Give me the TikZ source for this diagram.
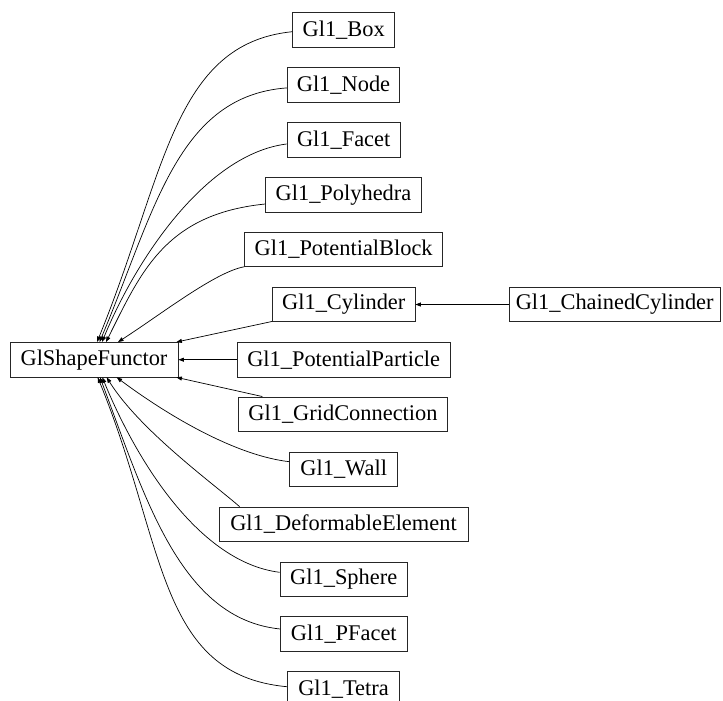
\documentclass[tikz,border=0pt]{standalone}
\usepackage{fontspec}
\setmainfont{Liberation Serif}
\usetikzlibrary{arrows.meta}
\begin{document}
\begin{tikzpicture}[x=1pt,y=-1pt,
  cls/.style={draw=black!85,line width=0.8pt,fill=white,inner sep=0pt,
    minimum height=34.5pt,font=\fontsize{22.4}{26}\selectfont},
  edge/.style={draw=black,line width=0.7pt,-{Triangle[length=5.5pt,width=4pt]}}]
\useasboundingbox (0,0) rectangle (723,701);
\clip (0,0) rectangle (723,701);
\fill[white] (0,0) rectangle (723,701);
% nodes
\node[cls,minimum width=168pt]   (gs)   at (94,359.7)    {GlShapeFunctor};
\node[cls,minimum width=102pt]   (box)  at (343.7,29.9)  {Gl1\_Box};
\node[cls,minimum width=112.4pt] (nod)  at (343.5,84.9)  {Gl1\_Node};
\node[cls,minimum width=113.3pt] (fac)  at (343.7,139.7) {Gl1\_Facet};
\node[cls,minimum width=155.6pt] (pol)  at (343.5,194.7) {Gl1\_Polyhedra};
\node[cls,minimum width=197.8pt] (pbl)  at (343.7,249.6) {Gl1\_PotentialBlock};
\node[cls,minimum width=142.5pt] (cyl)  at (343.75,304.5) {Gl1\_Cylinder};
\node[cls,minimum width=210.7pt] (ccy)  at (614.7,304.5) {Gl1\_ChainedCylinder};
\node[cls,minimum width=213.4pt] (ppa)  at (343.7,359.7) {Gl1\_PotentialParticle};
\node[cls,minimum width=208.4pt] (grd)  at (343,414.2)   {Gl1\_GridConnection};
\node[cls,minimum width=108pt]   (wal)  at (343.7,469.3) {Gl1\_Wall};
\node[cls,minimum width=249pt]   (def)  at (343.5,524.3) {Gl1\_DeformableElement};
\node[cls,minimum width=127.3pt] (sph)  at (343.7,579.3) {Gl1\_Sphere};
\node[cls,minimum width=126.3pt] (pfa)  at (343.8,634)   {Gl1\_PFacet};
\node[cls,minimum width=112.4pt] (tet)  at (343.5,689)   {Gl1\_Tetra};
% edges above
\draw[edge] ([shift={(0,1.8)}]box.west) .. controls +(-120,12) and +(68,-166) .. ([shift={(3,0)}]gs.north);
\draw[edge] ([shift={(0,3)}]nod.west) .. controls +(-110,8) and +(55,-130) .. ([shift={(5.5,0)}]gs.north);
\draw[edge] ([shift={(0,4.3)}]fac.west) .. controls +(-80,10) and +(35,-85) .. ([shift={(8,0)}]gs.north);
\draw[edge] ([shift={(0,9.3)}]pol.west) .. controls +(-100,10) and +(35,-70) .. ([shift={(12,0)}]gs.north);
\draw[edge] ([shift={(0,-0.5)}]pbl.south west) .. controls +(-29,5) and +(42,-27) .. ([shift={(24,0)}]gs.north);
\draw[edge] ([shift={(0,-0.7)}]cyl.south west) -- ([shift={(-2,0)}]gs.north east);
\draw[edge] (ppa.west) -- (gs.east);
\draw[edge] ([shift={(24,0)}]grd.north west) -- ([shift={(-2,0)}]gs.south east);
% edges below
\draw[edge] ([shift={(0,-7.6)}]wal.west) .. controls +(-60,-7) and +(40,30) .. ([shift={(22.7,0)}]gs.south);
\draw[edge] ([shift={(21,0)}]def.north west) .. controls +(-25,-22) and +(33,53) .. ([shift={(12.7,0)}]gs.south);
\draw[edge] ([shift={(0,-7)}]sph.west) .. controls +(-80,-10) and +(35,85) .. ([shift={(8.3,0)}]gs.south);
\draw[edge] ([shift={(0,-5)}]pfa.west) .. controls +(-100,-10) and +(45,120) .. ([shift={(6,0)}]gs.south);
\draw[edge] ([shift={(0,-2.3)}]tet.west) .. controls +(-130,-12) and +(68,166) .. ([shift={(3.7,0)}]gs.south);
% chained
\draw[edge] (ccy.west) -- (cyl.east);
\end{tikzpicture}
\end{document}
